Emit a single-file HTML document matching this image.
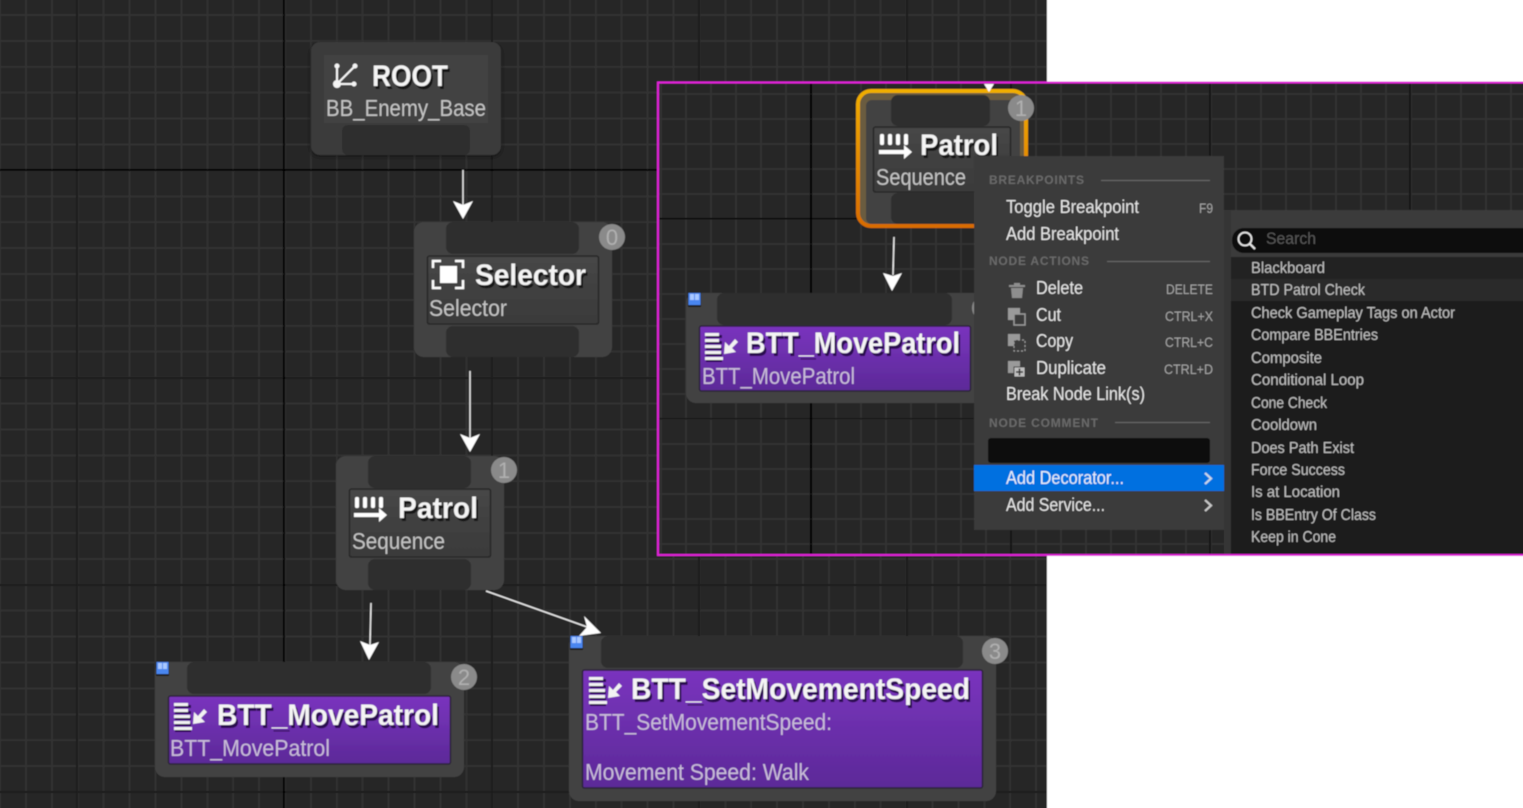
<!DOCTYPE html>
<html><head><meta charset="utf-8"><style>
html,body{margin:0;padding:0;background:#fff;width:1523px;height:808px;overflow:hidden}
svg{display:block}
text{font-family:"Liberation Sans",sans-serif}
.t{font-weight:bold;fill:#f4f4f4;font-size:30px}
.ts{font-weight:bold;fill:#141414;font-size:30px}
.tp{font-weight:bold;fill:#2a1050;font-size:30px}
.s{fill:#c4c4c4;font-size:23px}
.sp{fill:#c9bcd8;font-size:23px}
.h{fill:#6a6a6a;font-size:12px;font-weight:bold}
.m{fill:#e6e6e6;font-size:18px}
.k{fill:#a4a4a4;font-size:14px}
.l{fill:#c0c0c0;font-size:16px}
.b{fill:#b0b0b0;font-size:22px;text-anchor:middle}
</style></head><body>
<svg width="1523" height="808" viewBox="0 0 1523 808" xmlns="http://www.w3.org/2000/svg">
<defs>
<pattern id="g1" x="25" y="14" width="25.9" height="25.9" patternUnits="userSpaceOnUse">
<rect x="0" y="0" width="2" height="26" fill="#333"/><rect x="0" y="0" width="26" height="2" fill="#333"/></pattern>
<pattern id="g2" x="685" y="93" width="25" height="25" patternUnits="userSpaceOnUse">
<rect x="0" y="0" width="2" height="25" fill="#333"/><rect x="0" y="0" width="25" height="2" fill="#333"/></pattern>
<linearGradient id="pur" x1="0" y1="0" x2="0" y2="1"><stop offset="0" stop-color="#7a34be"/><stop offset="1" stop-color="#5c2a98"/></linearGradient>
<linearGradient id="nod" x1="0" y1="0" x2="0" y2="1"><stop offset="0" stop-color="#474747"/><stop offset="1" stop-color="#3a3a3a"/></linearGradient>
<linearGradient id="org" x1="0" y1="0" x2="0" y2="1"><stop offset="0" stop-color="#f0ae00"/><stop offset="1" stop-color="#d86c00"/></linearGradient>
<filter id="sh" x="-20%" y="-20%" width="140%" height="140%"><feGaussianBlur stdDeviation="3"/></filter>
<filter id="bl" filterUnits="userSpaceOnUse" x="-10" y="-10" width="1543" height="828"><feGaussianBlur stdDeviation="0.45"/></filter>
<g id="seqI" fill="#fff"><rect x="1" y="0" width="4" height="11" rx="1.500"/><rect x="9" y="0" width="4" height="11" rx="1.500"/><rect x="17" y="0" width="4" height="11" rx="1.500"/><rect x="25" y="0" width="4" height="11" rx="1.500"/><rect x="0" y="16" width="26" height="4"/><polygon points="25,11 33,18 25,25"/></g>
<g id="bttI"><g fill="#2a1050" transform="translate(1,2)"><rect x="0" y="0" width="16" height="3"/><rect x="0" y="6" width="16" height="3"/><rect x="0" y="12" width="16" height="3"/><rect x="0" y="18" width="16" height="3"/><rect x="0" y="24" width="16" height="3"/></g>
<g fill="#f2f2f2"><rect x="0" y="0" width="14" height="3"/><rect x="0" y="6" width="14" height="3"/><rect x="0" y="12" width="16" height="3"/><rect x="0" y="18" width="16" height="3"/><rect x="0" y="24" width="18" height="3"/><polygon points="30,6 33,9 27,15 31,19 19,21 20,9 24,13"/></g></g>
<g id="blue"><rect width="13" height="14" fill="#1f1f1f"/><rect x="0.500" y="0" width="12" height="12" fill="#4a86f0"/><rect x="2" y="1" width="4" height="6" fill="#a8c8ff"/><rect x="7" y="1" width="4" height="6" fill="#a8c8ff"/></g>
</defs>

<g filter="url(#bl)">
<!-- main graph -->
<rect x="-10" y="-10" width="1057" height="828" fill="#282828"/>
<rect x="-10" y="-10" width="1057" height="828" fill="url(#g1)"/>
<g fill="#1c1c1c"><rect x="76" y="-10" width="2" height="828"/><rect x="491" y="-10" width="2" height="828"/><rect x="698" y="-10" width="2" height="828"/><rect x="906" y="-10" width="2" height="828"/></g>
<g fill="#1c1c1c"><rect x="-10" y="377" width="1057" height="2"/><rect x="-10" y="584" width="1057" height="2"/><rect x="-10" y="791" width="1057" height="2"/></g>
<rect x="283" y="-10" width="2" height="828" fill="#000"/><rect x="-10" y="169" width="1057" height="2" fill="#000"/>
<rect x="1047" y="-10" width="486" height="828" fill="#fff"/>

<!-- ROOT -->
<rect x="310" y="44" width="192" height="113" rx="9" fill="#000" opacity=".4" filter="url(#sh)"/>
<rect x="311" y="42" width="190" height="113" rx="9" fill="#3a3a3a"/>
<rect x="324" y="55" width="164" height="68" fill="#424242"/>
<rect x="342" y="125" width="128" height="30" rx="6" fill="#2f2f2f"/>
<g fill="#f4f4f4" stroke="#f4f4f4"><line x1="337" y1="84" x2="355" y2="66" stroke-width="2"/><line x1="337" y1="84" x2="337" y2="66" stroke-width="2"/><line x1="337" y1="84" x2="355" y2="84" stroke-width="2"/><circle cx="337" cy="84" r="3.500"/><circle cx="337" cy="66" r="2"/><circle cx="355" cy="66" r="2"/><circle cx="354" cy="84" r="2"/></g>
<text class="ts" x="374" y="89" textLength="76" lengthAdjust="spacingAndGlyphs">ROOT</text>
<text class="t" x="372" y="86" textLength="76" lengthAdjust="spacingAndGlyphs">ROOT</text>
<text class="s" x="326" y="116" textLength="160" lengthAdjust="spacingAndGlyphs">BB_Enemy_Base</text>

<!-- Selector -->
<rect x="414" y="222" width="198" height="135" rx="10" fill="#434343"/>
<rect x="446" y="222" width="133" height="32" rx="7" fill="#2e2e2e"/>
<rect x="427.500" y="256" width="171" height="68" rx="2" fill="url(#nod)" stroke="#262626" stroke-width="1.500"/>
<rect x="446" y="326" width="133" height="31" rx="7" fill="#2e2e2e"/>
<rect x="440" y="266" width="17" height="17" fill="#fff"/>
<path d="M433 268v-7h8M455 261h8v7M433 280v8h8M455 288h8v-8" fill="none" stroke="#fff" stroke-width="2.500"/>
<text class="ts" x="477" y="288" textLength="111" lengthAdjust="spacingAndGlyphs">Selector</text>
<text class="t" x="475" y="285" textLength="111" lengthAdjust="spacingAndGlyphs">Selector</text>
<text class="s" x="429" y="316" textLength="78" lengthAdjust="spacingAndGlyphs">Selector</text>
<circle cx="612" cy="237" r="13" fill="#8a8a8a"/><text class="b" x="612" y="245">0</text>

<!-- Patrol -->
<rect x="336" y="456" width="168" height="134" rx="10" fill="#434343"/>
<rect x="368" y="456" width="103" height="32" rx="7" fill="#2e2e2e"/>
<rect x="349.500" y="489" width="141" height="68" rx="2" fill="url(#nod)" stroke="#262626" stroke-width="1.500"/>
<rect x="368" y="559" width="103" height="31" rx="7" fill="#2e2e2e"/>
<use href="#seqI" x="354" y="497"/>
<text class="ts" x="400" y="521" textLength="80" lengthAdjust="spacingAndGlyphs">Patrol</text>
<text class="t" x="398" y="518" textLength="80" lengthAdjust="spacingAndGlyphs">Patrol</text>
<text class="s" x="352" y="549" textLength="93" lengthAdjust="spacingAndGlyphs">Sequence</text>
<circle cx="504" cy="470" r="13" fill="#8a8a8a"/><text class="b" x="504" y="478">1</text>

<!-- MovePatrol -->
<rect x="155" y="662" width="309" height="115" rx="10" fill="#434343"/>
<rect x="187" y="662" width="244" height="32" rx="7" fill="#2e2e2e"/>
<rect x="168.500" y="696" width="282" height="68" rx="2" fill="url(#pur)" stroke="#2a2438" stroke-width="1.500"/>
<use href="#bttI" x="174" y="703"/>
<text class="tp" x="219" y="728" textLength="222" lengthAdjust="spacingAndGlyphs">BTT_MovePatrol</text>
<text class="t" x="217" y="725" textLength="222" lengthAdjust="spacingAndGlyphs">BTT_MovePatrol</text>
<text class="sp" x="170" y="756" textLength="160" lengthAdjust="spacingAndGlyphs">BTT_MovePatrol</text>
<circle cx="464" cy="677" r="13" fill="#8a8a8a"/><text class="b" x="464" y="685">2</text>
<use href="#blue" x="156" y="662"/>

<!-- SetMovementSpeed -->
<rect x="569" y="636" width="427" height="165" rx="10" fill="#434343"/>
<rect x="601" y="636" width="362" height="32" rx="7" fill="#2e2e2e"/>
<rect x="582.500" y="670" width="400" height="118" rx="2" fill="url(#pur)" stroke="#2a2438" stroke-width="1.500"/>
<use href="#bttI" x="589" y="677"/>
<text class="tp" x="633" y="702" textLength="339" lengthAdjust="spacingAndGlyphs">BTT_SetMovementSpeed</text>
<text class="t" x="631" y="699" textLength="339" lengthAdjust="spacingAndGlyphs">BTT_SetMovementSpeed</text>
<text class="sp" x="585" y="730" textLength="247" lengthAdjust="spacingAndGlyphs">BTT_SetMovementSpeed:</text>
<text class="sp" x="585" y="780" textLength="224" lengthAdjust="spacingAndGlyphs">Movement Speed: Walk</text>
<circle cx="995" cy="651" r="13" fill="#8a8a8a"/><text class="b" x="995" y="659">3</text>
<use href="#blue" x="570" y="636"/>

<!-- arrows main -->
<g stroke="#e8e8e8" stroke-width="1.500" fill="none"><line x1="463" y1="170" x2="463" y2="205"/><line x1="470" y1="371" x2="470" y2="438"/><line x1="371" y1="603" x2="370" y2="645"/><line x1="486" y1="591" x2="590" y2="628"/></g>
<g fill="#fff"><polygon points="463,219 453,201 463,205 473,201"/><polygon points="470,452 460,434 470,438 480,434"/><polygon points="369,660 360,641 370,645 379,642"/><polygon points="601,633 579,636 587,627 584,616"/></g>

<!-- panel -->
<rect x="658" y="82" width="875" height="473" fill="#262626"/>
<rect x="658" y="82" width="875" height="473" fill="url(#g2)"/>
<g fill="#181818"><rect x="1010" y="82" width="2" height="473"/><rect x="1209" y="82" width="2" height="473"/><rect x="1409" y="82" width="2" height="473"/><rect x="658" y="418" width="875" height="1.500"/></g>
<rect x="810" y="82" width="2" height="473" fill="#000"/><rect x="658" y="218" width="875" height="1.500" fill="#000"/>

<!-- selected Patrol -->
<rect x="858" y="91" width="168" height="135" rx="13" fill="#6a5c40" stroke="url(#org)" stroke-width="4"/>
<rect x="866" y="100" width="154" height="124" rx="6" fill="#434343"/>
<rect x="891" y="95" width="99" height="31" rx="7" fill="#2e2e2e"/>
<rect x="873.500" y="127" width="137" height="65" rx="2" fill="url(#nod)" stroke="#262626" stroke-width="1.500"/>
<rect x="891" y="193" width="99" height="31" rx="7" fill="#2e2e2e"/>
<use href="#seqI" x="879" y="134"/>
<text class="ts" x="922" y="158" textLength="78" lengthAdjust="spacingAndGlyphs">Patrol</text>
<text class="t" x="920" y="155" textLength="78" lengthAdjust="spacingAndGlyphs">Patrol</text>
<text class="s" x="876" y="185" textLength="90" lengthAdjust="spacingAndGlyphs">Sequence</text>
<circle cx="1021" cy="108" r="13" fill="#8a8a8a"/><text class="b" x="1021" y="116">1</text>
<polygon points="989,92 984,84 994,84" fill="#fff"/>

<!-- panel MovePatrol -->
<rect x="686" y="293" width="300" height="110" rx="10" fill="#434343"/>
<rect x="717" y="293" width="235" height="32" rx="7" fill="#2e2e2e"/>
<rect x="699.500" y="326" width="271" height="65" rx="2" fill="url(#pur)" stroke="#2a2438" stroke-width="1.500"/>
<use href="#bttI" x="705" y="333" />
<text class="tp" x="748" y="356" textLength="214" lengthAdjust="spacingAndGlyphs">BTT_MovePatrol</text>
<text class="t" x="746" y="353" textLength="214" lengthAdjust="spacingAndGlyphs">BTT_MovePatrol</text>
<text class="sp" x="702" y="384" textLength="153" lengthAdjust="spacingAndGlyphs">BTT_MovePatrol</text>
<circle cx="985" cy="308" r="13" fill="#8a8a8a"/>
<use href="#blue" x="688" y="293"/>
<line x1="894" y1="237" x2="893" y2="275" stroke="#e8e8e8" stroke-width="1.500"/>
<polygon points="892,291 883,273 893,276 902,273" fill="#fff"/>

<!-- submenu -->
<rect x="1224" y="210" width="309" height="344" fill="#3a3a3a"/>
<rect x="1232" y="228" width="301" height="25" rx="12" fill="#0f0f0f"/>
<rect x="1245" y="228" width="288" height="25" fill="#0f0f0f"/>
<circle cx="1245" cy="239" r="6.500" fill="none" stroke="#e8e8e8" stroke-width="1.800"/><line x1="1250" y1="244" x2="1255" y2="249" stroke="#e8e8e8" stroke-width="2"/>
<text x="1266" y="244" font-size="17" fill="#565656" textLength="50" lengthAdjust="spacingAndGlyphs">Search</text>
<rect x="1231" y="257" width="302" height="297" fill="#1a1a1a"/>
<rect x="1231" y="257" width="302" height="22" fill="#212121"/>
<rect x="1231" y="279" width="302" height="22" fill="#2c2c2c"/>
<g class="list">
<text class="l" x="1251" y="273" textLength="74" lengthAdjust="spacingAndGlyphs">Blackboard</text>
<text class="l" x="1251" y="295" textLength="114" lengthAdjust="spacingAndGlyphs">BTD Patrol Check</text>
<text class="l" x="1251" y="318" textLength="204" lengthAdjust="spacingAndGlyphs">Check Gameplay Tags on Actor</text>
<text class="l" x="1251" y="340" textLength="127" lengthAdjust="spacingAndGlyphs">Compare BBEntries</text>
<text class="l" x="1251" y="363" textLength="71" lengthAdjust="spacingAndGlyphs">Composite</text>
<text class="l" x="1251" y="385" textLength="113" lengthAdjust="spacingAndGlyphs">Conditional Loop</text>
<text class="l" x="1251" y="408" textLength="76" lengthAdjust="spacingAndGlyphs">Cone Check</text>
<text class="l" x="1251" y="430" textLength="66" lengthAdjust="spacingAndGlyphs">Cooldown</text>
<text class="l" x="1251" y="453" textLength="103" lengthAdjust="spacingAndGlyphs">Does Path Exist</text>
<text class="l" x="1251" y="475" textLength="94" lengthAdjust="spacingAndGlyphs">Force Success</text>
<text class="l" x="1251" y="497" textLength="89" lengthAdjust="spacingAndGlyphs">Is at Location</text>
<text class="l" x="1251" y="520" textLength="125" lengthAdjust="spacingAndGlyphs">Is BBEntry Of Class</text>
<text class="l" x="1251" y="542" textLength="85" lengthAdjust="spacingAndGlyphs">Keep in Cone</text>
</g>

<!-- menu -->
<rect x="974" y="156" width="250" height="374" fill="#3a3a3a"/>
<rect x="1224" y="210" width="7" height="344" fill="#363636"/>
<text class="h" x="989" y="184" textLength="95">BREAKPOINTS</text><rect x="1101" y="180" width="109" height="1" fill="#6a6a6a"/>
<text class="m" x="1006" y="213" textLength="133" lengthAdjust="spacingAndGlyphs">Toggle Breakpoint</text>
<text class="k" x="1199" y="213" textLength="14" lengthAdjust="spacingAndGlyphs">F9</text>
<text class="m" x="1006" y="240" textLength="113" lengthAdjust="spacingAndGlyphs">Add Breakpoint</text>
<text class="h" x="989" y="265" textLength="100">NODE ACTIONS</text><rect x="1107" y="261" width="103" height="1" fill="#6a6a6a"/>
<path d="M1009 285h16v2h-16zM1014 283h6v2h-6zM1011 288h12l-1 10h-10z" fill="#8e8e8e"/>
<text class="m" x="1036" y="294" textLength="47" lengthAdjust="spacingAndGlyphs">Delete</text>
<text class="k" x="1166" y="294" textLength="47" lengthAdjust="spacingAndGlyphs">DELETE</text>
<rect x="1008" y="308" width="12" height="12" fill="#9a9a9a"/><rect x="1014" y="314" width="11" height="11" fill="#3a3a3a" stroke="#9a9a9a" stroke-width="1.500"/>
<text class="m" x="1036" y="321" textLength="25" lengthAdjust="spacingAndGlyphs">Cut</text>
<text class="k" x="1165" y="321" textLength="48" lengthAdjust="spacingAndGlyphs">CTRL+X</text>
<rect x="1008" y="334" width="12" height="12" fill="#9a9a9a"/><rect x="1014" y="340" width="11" height="11" fill="#3a3a3a" stroke="#9a9a9a" stroke-width="1.200" stroke-dasharray="2 2"/>
<text class="m" x="1036" y="347" textLength="37" lengthAdjust="spacingAndGlyphs">Copy</text>
<text class="k" x="1165" y="347" textLength="48" lengthAdjust="spacingAndGlyphs">CTRL+C</text>
<rect x="1008" y="361" width="12" height="12" fill="#9a9a9a"/><rect x="1014" y="367" width="11" height="10" fill="#c0c0c0" stroke="#3a3a3a"/><path d="M1016 372h7M1019.500 368.500v7" stroke="#333" stroke-width="1.500"/>
<text class="m" x="1036" y="374" textLength="70" lengthAdjust="spacingAndGlyphs">Duplicate</text>
<text class="k" x="1164" y="374" textLength="49" lengthAdjust="spacingAndGlyphs">CTRL+D</text>
<text class="m" x="1006" y="400" textLength="139" lengthAdjust="spacingAndGlyphs">Break Node Link(s)</text>
<text class="h" x="989" y="427" textLength="109">NODE COMMENT</text><rect x="1115" y="422" width="95" height="1" fill="#6a6a6a"/>
<rect x="988" y="438" width="222" height="25" rx="3" fill="#0f0f0f"/>
<rect x="974" y="465" width="250" height="26" fill="#0070e0"/>
<text class="m" x="1006" y="484" textLength="118" lengthAdjust="spacingAndGlyphs" style="fill:#e8f0fa">Add Decorator...</text>
<path d="M1205 473l6 5.500-6 5.500" fill="none" stroke="#c8d8e8" stroke-width="2.200"/>
<text class="m" x="1006" y="511" textLength="99" lengthAdjust="spacingAndGlyphs">Add Service...</text>
<path d="M1205 500l6 5.500-6 5.500" fill="none" stroke="#c8c8c8" stroke-width="2.200"/>

<!-- magenta border -->
<rect x="658" y="82.500" width="880" height="472.500" fill="none" stroke="#e020d8" stroke-width="2"/>
<rect x="1047" y="556" width="486" height="262" fill="#fff"/>
</g>
</svg>
</body></html>
